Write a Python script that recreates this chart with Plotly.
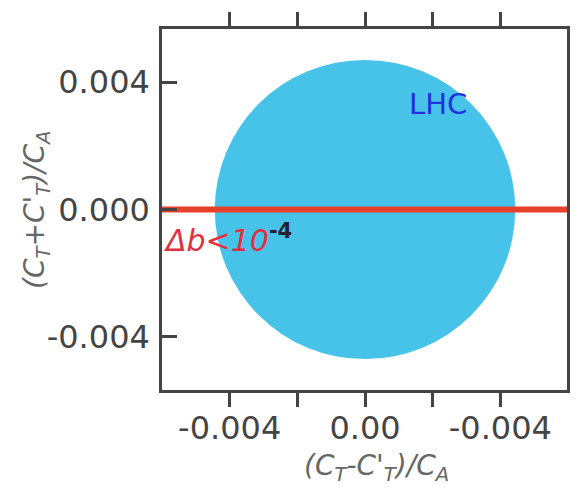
import plotly.graph_objects as go

# Data
x_tick_vals = [-0.004, -0.002, 0.0, 0.002, 0.004]
x_tick_text = ["-0.004", "", "0.00", "", "-0.004"]
y_tick_vals = [-0.004, 0.0, 0.004]
y_tick_text = ["-0.004", "0.000", "0.004"]

lhc_center = [0.0, 0.0]
lhc_radius_x = 0.00444
lhc_radius_y = 0.0047

db_line_x = [-0.0062, 0.0062]
db_line_y = [0.0, 0.0]

x_range = [-0.0060, 0.00597]
y_range = [-0.00567, 0.00567]

AX = "#444444"
FONT = "DejaVu Sans"

fig = go.Figure()

fig.add_shape(type="circle", xref="x", yref="y",
              x0=lhc_center[0] - lhc_radius_x, x1=lhc_center[0] + lhc_radius_x,
              y0=lhc_center[1] - lhc_radius_y, y1=lhc_center[1] + lhc_radius_y,
              fillcolor="#47c3ea", line=dict(width=0), layer="below")

fig.add_trace(go.Scatter(x=db_line_x, y=db_line_y, mode="lines",
                         line=dict(color="#e8412b", width=6),
                         hoverinfo="skip", showlegend=False, cliponaxis=True))

fig.add_annotation(x=0.00215, y=0.00330, xref="x", yref="y",
                   text="LHC", showarrow=False,
                   font=dict(family=FONT, size=29, color="#2130e0"))

fig.add_annotation(x=0.0, y=-0.00092, xref="paper", yref="y",
                   xanchor="left", yanchor="middle",
                   text="<i>Δb&lt;10</i><sup><span style='color:#222233'><b>-4</b></span></sup>",
                   showarrow=False,
                   font=dict(family=FONT, size=30, color="#e03040"))

fig.add_annotation(x=0.53, y=-0.215, xref="paper", yref="paper",
                   xanchor="center", yanchor="middle",
                   text="<i>(C<sub>T</sub>-C'<sub>T</sub>)/C<sub>A</sub></i>",
                   showarrow=False,
                   font=dict(family=FONT, size=28, color="#666666"))

fig.add_annotation(x=-0.31, y=0.5, xref="paper", yref="paper",
                   xanchor="center", yanchor="middle", textangle=-90,
                   text="<i>(C<sub>T</sub>+C'<sub>T</sub>)/C<sub>A</sub></i>",
                   showarrow=False,
                   font=dict(family=FONT, size=28, color="#666666"))

fig.update_layout(
    width=582, height=491,
    margin=dict(l=162, r=13, t=26, b=101),
    paper_bgcolor="white", plot_bgcolor="white",
    showlegend=False,
    xaxis=dict(range=x_range, tickvals=x_tick_vals, ticktext=x_tick_text,
               ticks="outside", ticklen=14, tickwidth=2.5, tickcolor=AX,
               showline=True, linecolor=AX, linewidth=2.5, mirror="ticks",
               showgrid=False, zeroline=False, ticklabelstandoff=-6,
               tickfont=dict(family=FONT, size=32, color=AX)),
    yaxis=dict(range=y_range, tickvals=y_tick_vals, ticktext=y_tick_text,
               ticks="inside", ticklen=15, tickwidth=2.5, tickcolor=AX,
               showline=True, linecolor=AX, linewidth=2.5, mirror=True,
               showgrid=False, zeroline=False, ticklabelstandoff=3,
               tickfont=dict(family=FONT, size=32, color=AX)),
)

fig.write_html("out.html")
